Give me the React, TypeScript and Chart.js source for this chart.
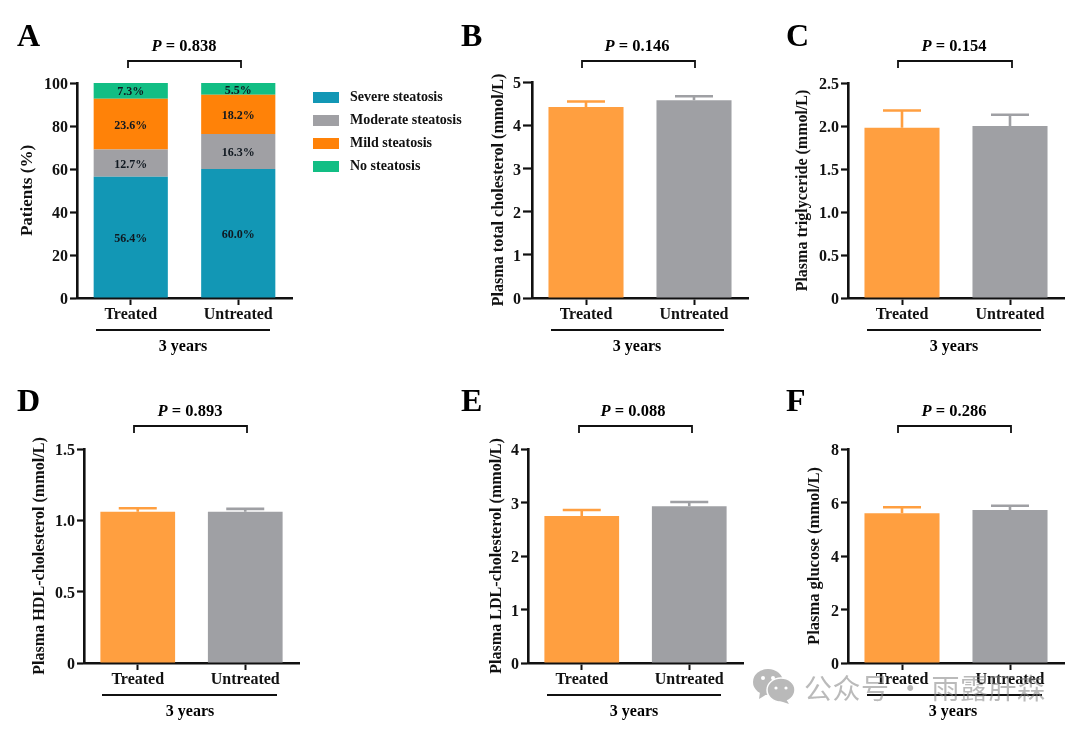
import React, { useEffect, useRef } from "react";
import { Chart, registerables } from "chart.js";

Chart.register(...registerables);

const categories = ["Treated", "Untreated"];
const severe = [56.4, 60.0];
const moderate = [12.7, 16.3];
const mild = [23.6, 18.2];
const noSteatosis = [7.3, 5.5];

const totalMean = [4.42, 4.58];
const totalUpper = [4.55, 4.67];
const triglycerideMean = [1.98, 2.0];
const triglycerideUpper = [2.18, 2.13];
const hdlMean = [1.06, 1.06];
const hdlUpper = [1.085, 1.08];
const ldlMean = [2.75, 2.93];
const ldlUpper = [2.86, 3.01];
const glucoseMean = [5.6, 5.72];
const glucoseUpper = [5.82, 5.88];

const groupLabel = "3 years";
const SERIF = "'Liberation Serif'";
const ORANGE = "#FF9F40";
const GRAY = "#9FA0A4";

type Panel = {
  letter: string; p: string; title: string; yMax: number; step: number;
  mean?: number[]; upper?: number[];
  box: [number, number, number, number];
  plot: [number, number, number, number];
  titleX: number; titleSize: number; letterX: number; letterY: number; tickLen: number;
  bracket: [number, number, number]; pText: [number, number];
  group: [number, number, number]; groupText: [number, number];
};

const panels: Panel[] = [
  { letter: "A", p: "0.838", title: "Patients (%)", yMax: 100, step: 20, tickLen: 7,
    box: [0, 0, 475, 365], plot: [77, 83, 292, 298], titleX: 28, titleSize: 17,
    letterX: 17, letterY: 46, bracket: [128, 241, 61], pText: [184, 46], group: [96, 270, 330], groupText: [183, 347] },
  { letter: "B", p: "0.146", title: "Plasma total cholesterol (mmol/L)", yMax: 5, step: 1, mean: totalMean, upper: totalUpper, tickLen: 9,
    box: [455, 0, 325, 365], plot: [532, 82, 748, 298], titleX: 499, titleSize: 16.1,
    letterX: 461, letterY: 46, bracket: [582, 695, 61], pText: [637, 46], group: [551, 724, 330], groupText: [637, 347] },
  { letter: "C", p: "0.154", title: "Plasma triglyceride (mmol/L)", yMax: 2.5, step: 0.5, mean: triglycerideMean, upper: triglycerideUpper, tickLen: 7,
    box: [780, 0, 300, 365], plot: [848, 83, 1064, 298], titleX: 803, titleSize: 16,
    letterX: 786, letterY: 46, bracket: [898, 1012, 61], pText: [954, 46], group: [867, 1041, 330], groupText: [954, 347] },
  { letter: "D", p: "0.893", title: "Plasma HDL-cholesterol (mmol/L)", yMax: 1.5, step: 0.5, mean: hdlMean, upper: hdlUpper, tickLen: 7,
    box: [0, 365, 455, 366], plot: [84, 449, 299, 663], titleX: 40, titleSize: 16.1,
    letterX: 17, letterY: 411, bracket: [134, 247, 426], pText: [190, 411], group: [102, 277, 695], groupText: [190, 712] },
  { letter: "E", p: "0.088", title: "Plasma LDL-cholesterol (mmol/L)", yMax: 4, step: 1, mean: ldlMean, upper: ldlUpper, tickLen: 7,
    box: [455, 365, 325, 366], plot: [528, 449, 743, 663], titleX: 497, titleSize: 16.1,
    letterX: 461, letterY: 411, bracket: [579, 692, 426], pText: [633, 411], group: [547, 721, 695], groupText: [634, 712] },
  { letter: "F", p: "0.286", title: "Plasma glucose (mmol/L)", yMax: 8, step: 2, mean: glucoseMean, upper: glucoseUpper, tickLen: 7,
    box: [780, 365, 300, 366], plot: [848, 449, 1064, 663], titleX: 815, titleSize: 16.5,
    letterX: 786, letterY: 411, bracket: [898, 1011, 426], pText: [954, 411], group: [867, 1042, 695], groupText: [953, 712] },
];

const stacked = [
  { label: "Severe steatosis", data: severe, color: "#1297B5" },
  { label: "Moderate steatosis", data: moderate, color: "#A0A0A4" },
  { label: "Mild steatosis", data: mild, color: "#FF8208" },
  { label: "No steatosis", data: noSteatosis, color: "#12BE84" },
];

function legendSwatch(color: string) {
  const c = document.createElement("canvas");
  c.width = 30;
  c.height = 11;
  const g = c.getContext("2d")!;
  g.fillStyle = color;
  g.fillRect(0, 0, 26, 11);
  return c;
}

function decorations(panel: Panel) {
  const [bx, by, bw, bh] = panel.box;
  return {
    id: "decor",
    afterUpdate(chart: any) {
      const lg = chart.legend;
      if (lg && chart.options.plugins.legend.display) {
        lg.left = 313 - 9;
        lg.top = 90 - 9;
        lg.right = bw;
        lg.bottom = bh;
        lg.adjustHitBoxes();
      }
    },
    beforeDraw(chart: any) {
      chart.scales.y.getLabelItems().forEach((item: any) => {
        item.textOffset += 2;
      });
    },
    afterDatasetsDraw(chart: any) {
      const ctx = chart.ctx;
      const y = chart.scales.y;
      if (panel.mean && panel.upper) {
        const meta = chart.getDatasetMeta(0);
        panel.upper.forEach((u, i) => {
          const x = meta.data[i].x;
          const y0 = y.getPixelForValue(panel.mean![i]);
          const y1 = y.getPixelForValue(u);
          ctx.save();
          ctx.strokeStyle = i === 0 ? ORANGE : GRAY;
          ctx.lineWidth = 2.6;
          ctx.beginPath();
          ctx.moveTo(x, y0);
          ctx.lineTo(x, y1);
          ctx.moveTo(x - 19, y1);
          ctx.lineTo(x + 19, y1);
          ctx.stroke();
          ctx.restore();
        });
      } else {
        ctx.save();
        ctx.font = `bold 12px ${SERIF}`;
        ctx.fillStyle = "#101820";
        ctx.textAlign = "center";
        ctx.textBaseline = "middle";
        chart.data.datasets.forEach((ds: any, d: number) => {
          const meta = chart.getDatasetMeta(d);
          ds.data.forEach((v: number, i: number) => {
            const el = meta.data[i];
            ctx.fillText(`${v.toFixed(1)}%`, el.x, (el.y + el.base) / 2 + 1.5);
          });
        });
        ctx.restore();
      }
    },
    afterDraw(chart: any) {
      const ctx = chart.ctx;
      ctx.save();
      ctx.fillStyle = "#000";
      ctx.strokeStyle = "#111";
      ctx.textBaseline = "alphabetic";
      ctx.textAlign = "left";
      ctx.font = `bold 32px ${SERIF}`;
      ctx.fillText(panel.letter, panel.letterX - bx, panel.letterY - by);

      const [l, r, t] = panel.bracket;
      ctx.lineWidth = 1.8;
      ctx.beginPath();
      ctx.moveTo(l - bx, t + 7 - by);
      ctx.lineTo(l - bx, t - by);
      ctx.lineTo(r - bx, t - by);
      ctx.lineTo(r - bx, t + 7 - by);
      ctx.stroke();

      ctx.textBaseline = "middle";
      const a = "P";
      const b = ` = ${panel.p}`;
      const size = 16.5;
      ctx.font = `italic bold ${size}px ${SERIF}`;
      const wa = ctx.measureText(a).width;
      ctx.font = `bold ${size}px ${SERIF}`;
      const wb = ctx.measureText(b).width;
      const sx = panel.pText[0] - bx - (wa + wb) / 2;
      const py = panel.pText[1] - by + 1;
      ctx.font = `italic bold ${size}px ${SERIF}`;
      ctx.fillText(a, sx, py);
      ctx.font = `bold ${size}px ${SERIF}`;
      ctx.fillText(b, sx + wa, py);

      const [gl, gr, gy] = panel.group;
      ctx.lineWidth = 1.8;
      ctx.beginPath();
      ctx.moveTo(gl - bx, gy - by);
      ctx.lineTo(gr - bx, gy - by);
      ctx.stroke();
      ctx.textAlign = "center";
      ctx.font = `bold 16px ${SERIF}`;
      ctx.fillText(groupLabel, panel.groupText[0] - bx, panel.groupText[1] - by);
      ctx.restore();
    },
  };
}

function buildChart(canvas: HTMLCanvasElement, panel: Panel) {
  const [bx, by, bw, bh] = panel.box;
  const [pl, pt, pr, pb] = panel.plot;
  const isStacked = !panel.mean;
  const datasets: any[] = isStacked
    ? stacked.map((s) => ({
        label: s.label,
        data: s.data,
        backgroundColor: s.color,
        barPercentage: 0.69,
        categoryPercentage: 1,
      }))
    : [{
        label: panel.title,
        data: panel.mean,
        backgroundColor: [ORANGE, GRAY],
        barPercentage: 0.695,
        categoryPercentage: 1,
      }];
  const titleFontSize = panel.titleSize;
  return new Chart(canvas, {
    type: "bar",
    data: { labels: categories, datasets },
    plugins: [decorations(panel)],
    options: {
      animation: false,
      responsive: false,
      layout: {
        autoPadding: false,
        padding: { left: 0, top: pt - by, right: bx + bw - pr, bottom: 0 },
      },
      plugins: {
        tooltip: { enabled: false },
        legend: isStacked
          ? {
              display: true,
              position: "chartArea",
              align: "start",
              labels: {
                usePointStyle: true,
                pointStyleWidth: 30,
                boxHeight: 11,
                padding: 9,
                color: "#111",
                font: { family: SERIF, size: 14, weight: "bold" },
                generateLabels: (c: any) =>
                  c.data.datasets.map((d: any, i: number) => ({
                    text: d.label,
                    datasetIndex: i,
                    fontColor: "#111",
                    pointStyle: legendSwatch(d.backgroundColor),
                  })),
              },
            }
          : { display: false },
      },
      scales: {
        x: {
          stacked: isStacked,
          afterFit: (s: any) => { s.height = by + bh - pb; },
          grid: { drawOnChartArea: false, drawTicks: true, tickLength: 7, tickWidth: 2, tickColor: "#111", offset: false },
          border: { color: "#111", width: 2.6 },
          ticks: { color: "#111", padding: 0, font: { family: SERIF, size: 16, weight: "bold" }, maxRotation: 0 },
        },
        y: {
          stacked: isStacked,
          min: 0,
          max: panel.yMax,
          afterFit: (s: any) => { s.width = pl - bx; },
          grid: { drawOnChartArea: false, drawTicks: true, tickLength: panel.tickLen, tickWidth: 2.2, tickColor: "#111" },
          border: { color: "#111", width: 2.6 },
          ticks: { stepSize: panel.step, color: "#111", padding: 2, font: { family: SERIF, size: 16, weight: "bold" } },
          title: {
            display: true,
            text: panel.title,
            color: "#111",
            font: { family: SERIF, size: titleFontSize, weight: "bold" },
            padding: { top: panel.titleX - bx - titleFontSize * 0.6, bottom: 0 },
          },
        },
      },
    } as any,
  });
}

function PanelChart({ panel }: { panel: Panel }) {
  const ref = useRef<HTMLCanvasElement>(null);
  useEffect(() => {
    const chart = buildChart(ref.current!, panel);
    return () => chart.destroy();
  }, [panel]);
  const [x, y, w, h] = panel.box;
  return <canvas ref={ref} width={w} height={h} style={{ position: "absolute", left: x, top: y, width: w, height: h, display: "block" }} />;
}

function Watermark() {
  return (
    <div style={{ position: "absolute", left: 0, top: 0, width: 1080, height: 731, pointerEvents: "none" }}>
      <svg width={50} height={40} viewBox="0 0 50 40" style={{ position: "absolute", left: 750, top: 666 }}>
        <ellipse cx={18} cy={16} rx={15} ry={13} fill="#B9B9B9" />
        <path d="M10 26 L9 33 L17 28 Z" fill="#B9B9B9" />
        <ellipse cx={31} cy={24} rx={14} ry={12} fill="#B9B9B9" stroke="#fff" strokeWidth={1.5} />
        <path d="M36 33 L39 38 L30 35 Z" fill="#B9B9B9" />
        <circle cx={13} cy={12} r={2} fill="#fff" />
        <circle cx={23} cy={12} r={2} fill="#fff" />
        <circle cx={26} cy={22} r={1.6} fill="#fff" />
        <circle cx={36} cy={22} r={1.6} fill="#fff" />
      </svg>
      <div style={{ position: "absolute", left: 804, top: 668, fontFamily: "'Noto Sans CJK SC'", fontSize: 28, letterSpacing: 0.5, lineHeight: "38px", color: "rgba(130,130,130,0.55)", whiteSpace: "nowrap" }}>
        公众号 · 雨露肝森
      </div>
    </div>
  );
}

export default function App() {
  return (
    <div style={{ position: "absolute", left: 0, top: 0, width: 1080, height: 731, overflow: "hidden", background: "#fff" }}>
      {panels.map((p) => <PanelChart key={p.letter} panel={p} />)}
      <Watermark />
    </div>
  );
}
